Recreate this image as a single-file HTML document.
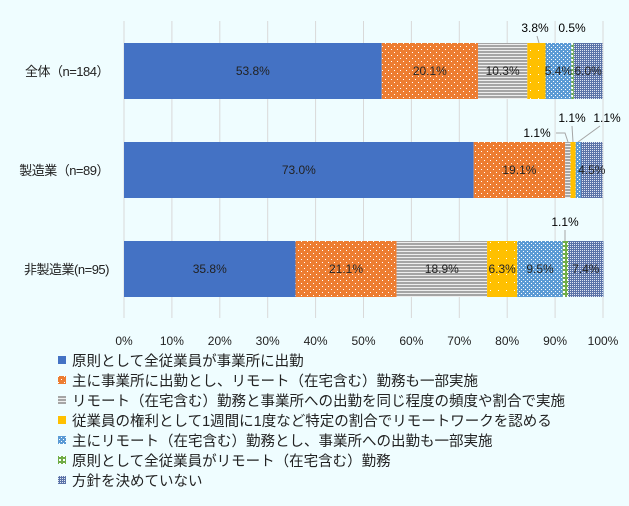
<!DOCTYPE html>
<html><head><meta charset="utf-8"><style>
body{margin:0;background:#effdff;}
svg{display:block;font-family:"Liberation Sans","Noto Sans CJK JP",sans-serif;}
</style></head><body>
<svg id="s" width="629" height="506" xmlns="http://www.w3.org/2000/svg">
<defs>
<pattern id="p1" width="6" height="6" patternUnits="userSpaceOnUse"><rect width="6" height="6" fill="#ed7d31"/><rect x="1" y="1" width="1" height="1" fill="#fff"/><rect x="4" y="4" width="1" height="1" fill="#fff"/></pattern>
<pattern id="p2" width="3" height="3" patternUnits="userSpaceOnUse"><rect width="3" height="3" fill="#eee"/><rect width="3" height="2" fill="#a5a5a5"/></pattern>
<pattern id="p3" width="8" height="8" patternUnits="userSpaceOnUse"><rect width="8" height="8" fill="#ffc000"/><rect x="2" y="2" width="1" height="1" fill="#fff"/></pattern>
<pattern id="p4" width="4" height="4" patternUnits="userSpaceOnUse"><rect width="4" height="4" fill="#5b9bd5"/><rect x="1" y="1" width="1" height="1" fill="#fff"/><rect x="3" y="3" width="1" height="1" fill="#fff"/></pattern>
<pattern id="p5" width="4" height="4" patternUnits="userSpaceOnUse"><rect width="4" height="4" fill="#fff"/><rect x="1" width="2" height="4" fill="#70ad47"/><rect y="1" width="4" height="2" fill="#70ad47"/></pattern>
<pattern id="p6" width="2" height="2" patternUnits="userSpaceOnUse"><rect width="2" height="2" fill="#5a73a8"/><rect width="1" height="1" fill="#dfe6f2"/></pattern>
</defs>
<g id="g"></g>
</svg>
<script>
const g=document.getElementById('g');
let h='';
const X0=124,W=479;const x=p=>X0+W*p/100;
for(let i=0;i<=10;i++){const xx=x(i*10);h+=`<line x1="${xx}" y1="21" x2="${xx}" y2="318" stroke="#d9d9d9" stroke-width="1"/>`;
h+=`<text x="${xx}" y="345" font-size="12" text-anchor="middle" fill="#222">${i*10}%</text>`;}
const fills=['#4472c4','url(#p1)','url(#p2)','url(#p3)','url(#p4)','url(#p5)','url(#p6)'];
const data=[[53.8,20.1,10.3,3.8,5.4,0.5,6.0],[73.0,19.1,1.1,1.1,1.1,0,4.5],[35.8,21.1,18.9,6.3,9.5,1.1,7.4]];
const ys=[43,142,241];const names=['全体（n=184）','製造業（n=89）','非製造業(n=95)'];
const lbls=[[1,1,1,0,1,0,1],[1,1,0,0,0,0,1],[1,1,1,1,1,0,1]];
data.forEach((r,i)=>{let c=0;const y=ys[i];
h+=`<text x="109" y="${y+33}" font-size="13" text-anchor="end" fill="#222" letter-spacing="-0.5">${names[i]}</text>`;
r.forEach((v,j)=>{if(v>0){h+=`<rect x="${x(c)}" y="${y}" width="${W*v/100}" height="56" fill="${fills[j]}"/>`;
if(lbls[i][j])h+=`<text x="${x(c+v/2)}" y="${y+32}" font-size="12" text-anchor="middle" fill="#222">${v.toFixed(1)}%</text>`;}
c+=v;});});
h+=`<text x="535" y="32" font-size="12" text-anchor="middle">3.8%</text><line x1="537" y1="36" x2="539" y2="43" stroke="#a5a5a5"/>`;
h+=`<text x="572" y="32" font-size="12" text-anchor="middle">0.5%</text>`;
h+=`<text x="537" y="137" font-size="12" text-anchor="middle">1.1%</text><polyline points="556,133 565,133 568,142" fill="none" stroke="#a5a5a5"/>`;
h+=`<text x="572" y="122" font-size="12" text-anchor="middle">1.1%</text><line x1="572" y1="126" x2="573" y2="142" stroke="#a5a5a5"/>`;
h+=`<text x="607" y="122" font-size="12" text-anchor="middle">1.1%</text><line x1="600" y1="126" x2="578" y2="142" stroke="#a5a5a5"/>`;
h+=`<text x="565" y="226" font-size="12" text-anchor="middle">1.1%</text><line x1="565" y1="230" x2="565" y2="241" stroke="#a5a5a5"/>`;
const leg=['原則として全従業員が事業所に出勤','主に事業所に出勤とし、リモート（在宅含む）勤務も一部実施','リモート（在宅含む）勤務と事業所への出勤を同じ程度の頻度や割合で実施','従業員の権利として1週間に1度など特定の割合でリモートワークを認める','主にリモート（在宅含む）勤務とし、事業所への出勤も一部実施','原則として全従業員がリモート（在宅含む）勤務','方針を決めていない'];
const lf=['#4472c4','url(#p1)','url(#p2)','#ffc000','url(#p4)','url(#p5)','url(#p6)'];
leg.forEach((t,i)=>{const y=366+i*20;h+=`<rect x="58" y="${y-10}" width="8" height="8" fill="${lf[i]}"/><text x="72" y="${y}" font-size="14.5" fill="#222">${t}</text>`;});
g.innerHTML=h;
</script>
</body></html>
